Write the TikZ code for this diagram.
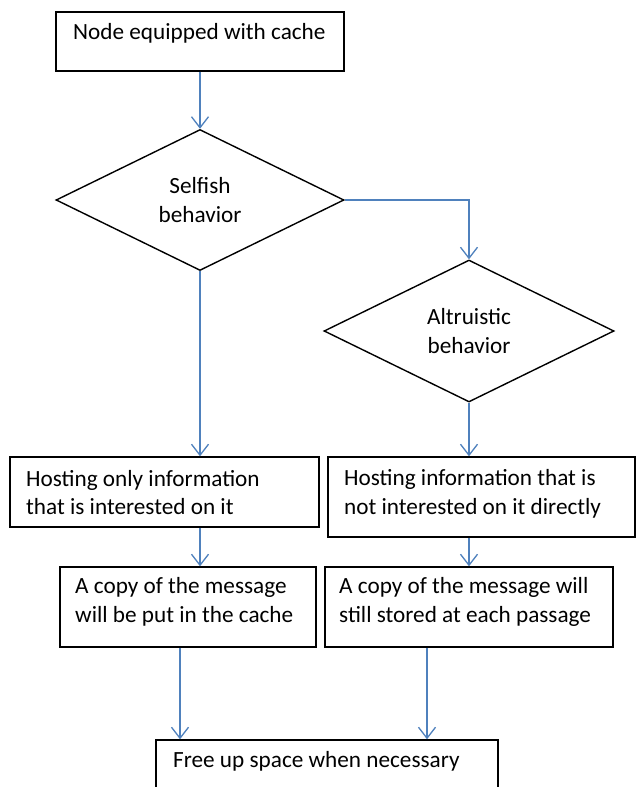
\documentclass[tikz,border=0pt]{standalone}
\usepackage{fontspec}
\setmainfont{Carlito}
\usetikzlibrary{shapes.geometric,arrows.meta,calc}
\definecolor{arrowblue}{RGB}{79,129,189}
\newcommand\diagfont{\fontsize{23.3}{29}\selectfont}
\begin{document}
\begin{tikzpicture}[x=1bp,y=-1bp,
  box/.style={draw=black,line width=1.4bp,rectangle,inner sep=0pt},
  dec/.style={draw=black,line width=1.4bp,diamond,aspect=2,inner sep=0pt,align=center,font=\diagfont},
  txt/.style={inner sep=0pt,align=left,anchor=west,font=\diagfont},
  arr/.style={draw=arrowblue,line width=1.3bp,-{Straight Barb[length=11bp,width=17bp]}}
]
\clip (0,0) rectangle (636,787);
\fill[white] (0,0) rectangle (636,787);

\node[box,minimum width=288bp,minimum height=59bp] (top) at (200,41.5) {};
\node[txt] (toptext) at (73,33) {Node equipped with cache};

\node[dec,minimum width=288bp,minimum height=141bp] (self) at (200,200) {Selfish\\behavior};
\node[dec,minimum width=290bp,minimum height=142bp] (alt) at (469,331) {Altruistic\\behavior};

\node[box,minimum width=309bp,minimum height=70bp] (l1) at (164.5,492) {};
\node[txt] (l1t) at (26,492.5) {Hosting only information\\that is interested on it};

\node[box,minimum width=307bp,minimum height=80bp] (r1) at (481.5,497) {};
\node[txt] (r1t) at (344,493.5) {Hosting information that is\\not interested on it directly};

\node[box,minimum width=256bp,minimum height=80bp] (l2) at (188,607) {};
\node[txt] (l2t) at (75,602) {A copy of the message\\will be put in the cache};

\node[box,minimum width=288bp,minimum height=80bp] (r2) at (469,607) {};
\node[txt] (r2t) at (339,602) {A copy of the message will\\still stored at each passage};

\node[box,minimum width=342bp,minimum height=80bp] (bot) at (327,780) {};
\node[txt] (bott) at (173,761) {Free up space when necessary};

\draw[arr] (top.south) -- (self.north);
\draw[arr] (self.east) -| (alt.north);
\draw[arr] (self.south) -- (self.south |- l1.north);
\draw[arr] (alt.south) -- (alt.south |- r1.north);
\coordinate (l1out) at (l1.south -| self.south);
\draw[arr] (l1out) -- (l1out |- l2.north);
\coordinate (r1out) at (r1.south -| alt.south);
\draw[arr] (r1out) -- (r1out |- r2.north);
\coordinate (l2out) at ([xshift=-8bp]l2.south);
\draw[arr] (l2out) -- (l2out |- bot.north);
\coordinate (r2out) at ([xshift=-42bp]r2.south);
\draw[arr] (r2out) -- (r2out |- bot.north);
\end{tikzpicture}
\end{document}
